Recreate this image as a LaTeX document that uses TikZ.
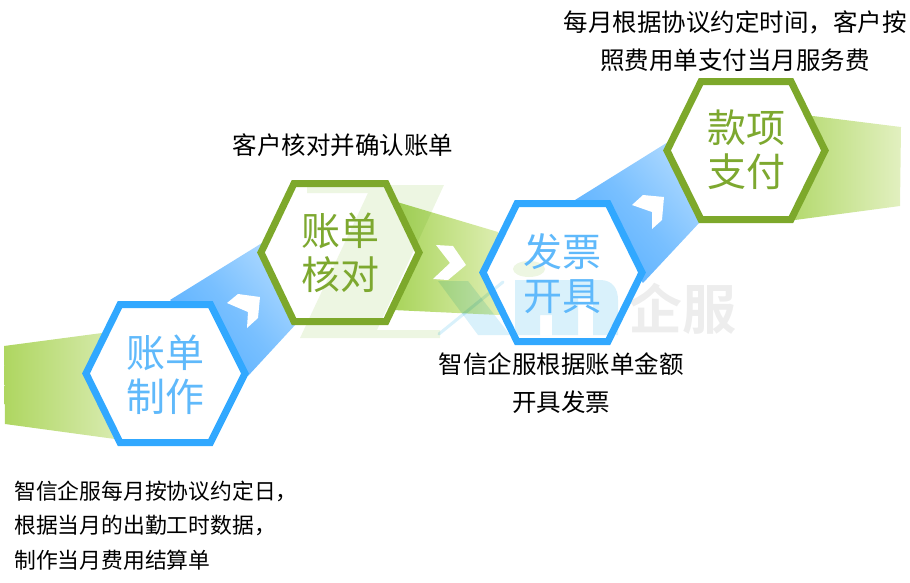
\documentclass[tikz,border=0pt]{standalone}
\usepackage{fontspec}
\setmainfont{Noto Sans CJK SC}
\newfontfamily\boldcjk[BoldFont={Noto Sans CJK SC Bold}]{Noto Sans CJK SC}
\definecolor{hexblue}{HTML}{31A8FF}
\definecolor{hexgreen}{HTML}{7DA82B}
\definecolor{txtblue}{HTML}{5FB9FB}
\definecolor{txtgreen}{HTML}{7DA82F}
\definecolor{wmgreen}{HTML}{EDF6E2}
\definecolor{wmblue}{HTML}{D9F1FB}
\definecolor{wmgray}{HTML}{EDEDED}
\definecolor{gaL}{HTML}{AED660}
\definecolor{gaR}{HTML}{D8EBAF}
\definecolor{gbL}{HTML}{A8D45A}
\definecolor{gbR}{HTML}{DEEEB2}
\definecolor{gcL}{HTML}{B5DA70}
\definecolor{gcR}{HTML}{E2F0C0}
\definecolor{blL}{HTML}{AAD7FF}
\definecolor{blD}{HTML}{58B0FF}
\tikzset{
  x=1pt,y=-1pt,
  hexline/.style={line width=7pt,line join=miter},
  steptext/.style={font=\fontsize{39}{44}\selectfont,align=center,inner sep=0pt},
  caption/.style={font=\fontsize{24.5}{38.5}\selectfont,text=black,align=center,inner sep=0pt},
  captionsmall/.style={font=\fontsize{21.8}{34.5}\selectfont,text=black,align=left,inner sep=0pt,anchor=west},
  chevron/.style={fill=white,draw=none},
  blueband/.style={top color=blL,bottom color=blD,middle color=blD!60!blL,shading angle=-50},
}
\begin{document}
\begin{tikzpicture}
\useasboundingbox (0,0) rectangle (910,582);
% green bands
\shade[left color=gaL,right color=gaR]
  (4,346) -- (102,333) -- (115,439) -- (5,424) -- cycle;
\shade[left color=gbL,right color=gbR]
  (397,202) -- (498,232) -- (500,315) -- (393,310) -- cycle;
\shade[left color=gcL,right color=gcR]
  (795,116) -- (813,116) -- (901,127) -- (900,206) -- (795,220) -- cycle;
% blue bands
\shade[blueband]
  (170,300) -- (262,243) -- (296,324) -- (248,376) -- cycle;
\shade[blueband]
  (575,200) -- (668,142) -- (700,222) -- (643,283) -- cycle;
% chevrons
\fill[chevron] (227,303) -- (238,294) -- (260,297) -- (258,318) -- (247,328) -- (248,312) -- cycle;
\fill[chevron] (632,205) -- (643,195) -- (664,197) -- (662,220) -- (652,229) -- (652,212) -- cycle;
\fill[chevron] (436,245) -- (453,246) -- (466,265) -- (448,280) -- (433,279) -- (450,263) -- cycle;
% hexagon interiors
\fill[white] (120,304.5) -- (210.5,304.5) -- (245,373.5) -- (210.5,442.5) -- (120,442.5) -- (86,373.5) -- cycle;
\fill[white] (294,183.5) -- (386,183.5) -- (419,252.5) -- (386,321.5) -- (294,321.5) -- (261,252.5) -- cycle;
\fill[white] (517,203.5) -- (608,203.5) -- (642,272.5) -- (608,341.5) -- (517,341.5) -- (483,272.5) -- cycle;
\fill[white] (701,81.5) -- (791,81.5) -- (825,150.5) -- (791,219.5) -- (701,219.5) -- (667,150.5) -- cycle;
% watermark
\begin{scope}[blend mode=multiply]
\fill[wmgreen] (307,185) -- (444,185) -- (377,330) -- (440,330) -- (440,338) -- (300,338) -- (368,193) -- (307,193) -- cycle;
\fill[wmblue] (438,281) -- (468,281) -- (510,335) -- (478,335) -- cycle;
\draw[wmblue,line width=3pt,line cap=round] (439,334) -- (503,282);
\fill[wmgreen] (529,269) ellipse[x radius=16,y radius=8];
\fill[wmblue] (515,280) -- (600,280) .. controls (612,280) and (618,288) .. (618,300) -- (618,335) -- (593,335) -- (593,298) -- (578,298) -- (578,335) -- (552,335) -- (552,315) -- (540,315) -- (540,335) -- (515,335) -- cycle;
\end{scope}
\node[text=wmgray,inner sep=0pt,font=\boldcjk\bfseries\fontsize{54}{54}\selectfont] (wm) at (682,309) {企服};
% hexagon outlines
\draw[hexblue,hexline] (120,304.5) -- (210.5,304.5) -- (245,373.5) -- (210.5,442.5) -- (120,442.5) -- (86,373.5) -- cycle;
\draw[hexgreen,hexline] (294,183.5) -- (386,183.5) -- (419,252.5) -- (386,321.5) -- (294,321.5) -- (261,252.5) -- cycle;
\draw[hexblue,hexline] (517,203.5) -- (608,203.5) -- (642,272.5) -- (608,341.5) -- (517,341.5) -- (483,272.5) -- cycle;
\draw[hexgreen,hexline] (701,81.5) -- (791,81.5) -- (825,150.5) -- (791,219.5) -- (701,219.5) -- (667,150.5) -- cycle;
% step labels
\node[steptext,text=txtblue] (s1) at (165,374.5) {账单\\制作};
\node[steptext,text=txtgreen] (s2) at (340,252.5) {账单\\核对};
\node[steptext,text=txtblue] (s3) at (562,273.5) {发票\\开具};
\node[steptext,text=txtgreen] (s4) at (746,150) {款项\\支付};
% captions
\node[caption] (c4) at (735,41) {每月根据协议约定时间，客户按\\照费用单支付当月服务费};
\node[caption] (c2) at (343,145) {客户核对并确认账单};
\node[caption] (c3) at (561,383) {智信企服根据账单金额\\开具发票};
\node[captionsmall] (c1) at (14,525.5) {智信企服每月按协议约定日，\\根据当月的出勤工时数据，\\制作当月费用结算单};
\end{tikzpicture}
\end{document}
